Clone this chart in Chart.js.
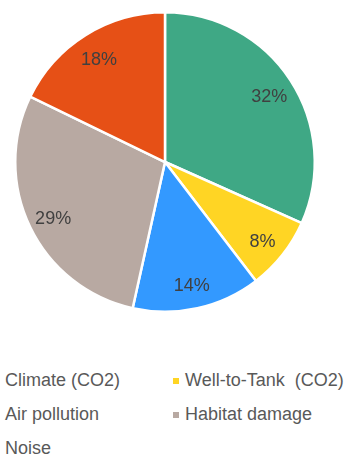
<!DOCTYPE html>
<html>
<head>
<meta charset="utf-8">
<script src="https://cdn.jsdelivr.net/npm/chart.js@4/dist/chart.umd.min.js"></script>
<style>
  html, body { margin: 0; padding: 0; background: #fff; }
  body { width: 348px; height: 458px; position: relative; overflow: hidden; font-family: "Liberation Sans", Arial, sans-serif; }
  #wrap { position: absolute; left: 0; top: 0; width: 348px; height: 320px; }
  .leg { position: absolute; font-size: 18px; line-height: 20px; color: #595959; white-space: pre; }
  .mk { position: absolute; width: 6px; height: 6px; }
</style>
</head>
<body>
<div id="wrap"><canvas id="c" width="348" height="320"></canvas></div>
<div id="legend"></div>
<script>
const categories = ["Climate (CO2)", "Well-to-Tank  (CO2)", "Air pollution", "Habitat damage", "Noise"];
const shares = [32, 8, 14, 29, 18];
const colors = ["#3FA885", "#FFD524", "#3399FF", "#B8A9A2", "#E65016"];
// legend markers visible only for these entries (as in the reference)
const markerShown = [false, true, false, true, false];
// legend order: two columns, rows
const legendOrder = [0, 1, 2, 3, 4];

const labelPlugin = {
  id: 'sliceLabels',
  afterDatasetsDraw(chart) {
    const ctx = chart.ctx;
    const meta = chart.getDatasetMeta(0);
    ctx.save();
    ctx.font = '18px "Liberation Sans", Arial, sans-serif';
    ctx.fillStyle = '#404040';
    ctx.textAlign = 'center';
    ctx.textBaseline = 'middle';
    meta.data.forEach((arc, i) => {
      const p = arc.getProps(['x', 'y', 'startAngle', 'endAngle', 'outerRadius'], true);
      const a = (p.startAngle + p.endAngle) / 2;
      const r = p.outerRadius * 0.83;
      ctx.fillText(shares[i] + '%', p.x + Math.cos(a) * r, p.y + Math.sin(a) * r + 3);
    });
    ctx.restore();
  }
};

new Chart(document.getElementById('c'), {
  type: 'pie',
  data: {
    labels: categories,
    datasets: [{
      data: shares,
      backgroundColor: colors,
      borderColor: '#ffffff',
      borderWidth: 2.5
    }]
  },
  options: {
    responsive: false,
    animation: false,
    layout: { padding: { left: 14, right: 32, top: 11, bottom: 7 } },
    plugins: { legend: { display: false }, tooltip: { enabled: false } }
  },
  plugins: [labelPlugin]
});

// HTML legend in two columns
const leg = document.getElementById('legend');
const colX = [5, 185];
const rowTop = [370, 403.5, 438];
legendOrder.forEach((idx, k) => {
  const col = k % 2, row = Math.floor(k / 2);
  const t = document.createElement('div');
  t.className = 'leg';
  t.style.left = colX[col] + 'px';
  t.style.top = rowTop[row] + 'px';
  t.textContent = categories[idx];
  leg.appendChild(t);
  if (markerShown[idx]) {
    const m = document.createElement('div');
    m.className = 'mk';
    m.style.background = colors[idx];
    m.style.left = (colX[col] - 12) + 'px';
    m.style.top = (rowTop[row] + 8) + 'px';
    leg.appendChild(m);
  }
});
</script>
</body>
</html>
